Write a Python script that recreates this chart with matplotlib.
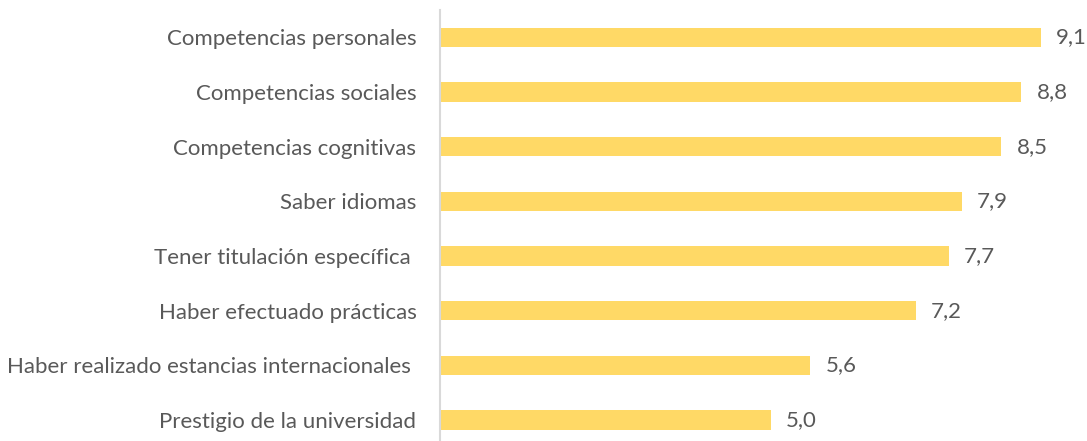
import matplotlib
matplotlib.use('Agg')
import matplotlib.pyplot as plt

# ---- Data ----
categories = [
    'Competencias personales',
    'Competencias sociales',
    'Competencias cognitivas',
    'Saber idiomas',
    'Tener titulación específica ',
    'Haber efectuado prácticas',
    'Haber realizado estancias internacionales ',
    'Prestigio de la universidad',
]
values = [9.1, 8.8, 8.5, 7.9, 7.7, 7.2, 5.6, 5.0]

BAR_COLOR = '#FFD966'
TEXT_COLOR = '#595959'
W, H, DPI = 1087, 441, 100

plt.rcParams['font.family'] = ['Lato', 'DejaVu Sans']

fig = plt.figure(figsize=(W / DPI, H / DPI), dpi=DPI)
# axes from the vertical axis line (x=440px) to the right edge
ax = fig.add_axes([440 / W, 0, 1 - 440 / W, 1 - 10 / H])

pos = list(range(len(categories)))
ax.barh(pos, values, height=0.35, color=BAR_COLOR, left=0.02)
ax.set_xlim(0, 647 / 65.9)
ax.set_ylim(len(categories) - 1 + 0.385, -0.5)

ax.set_yticks(pos)
ax.set_yticklabels(categories, fontsize=16, color=TEXT_COLOR)
ax.tick_params(axis='y', length=0, pad=17)
ax.set_xticks([])

for p, v in zip(pos, values):
    ax.text(v + 0.25, p, f'{v:.1f}'.replace('.', ','), va='center', ha='left',
            fontsize=16, color=TEXT_COLOR)

for side in ('top', 'right', 'bottom'):
    ax.spines[side].set_visible(False)
ax.spines['left'].set_color('#D9D9D9')
ax.spines['left'].set_linewidth(1.5)

fig.savefig('out.png', dpi=DPI)
